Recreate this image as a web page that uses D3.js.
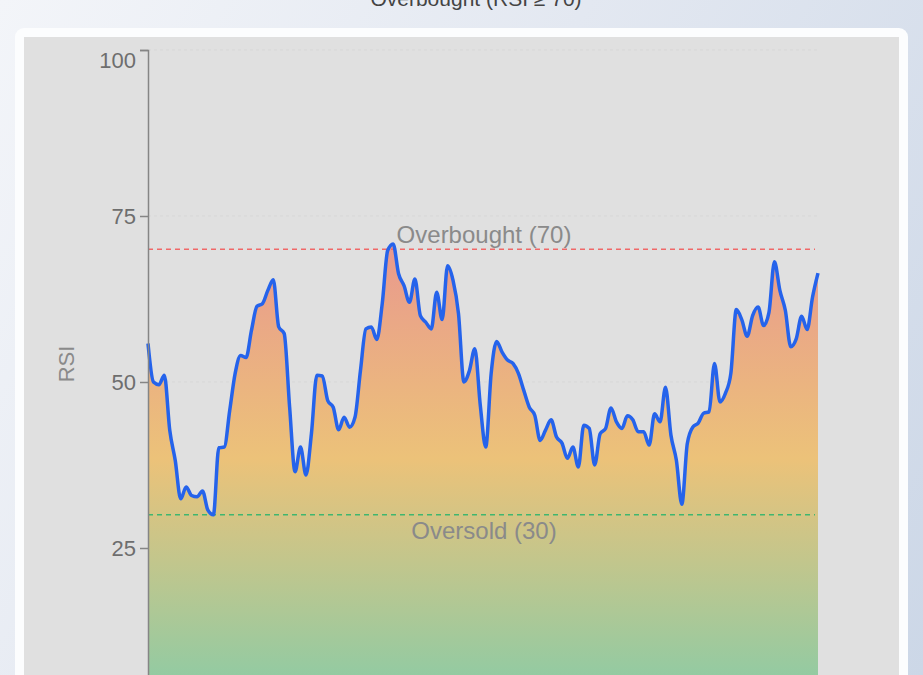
<!DOCTYPE html>
<html>
<head>
<meta charset="utf-8">
<script src="https://cdn.jsdelivr.net/npm/d3@7"></script>
<style>
    html, body {
        margin: 0;
        padding: 0;
        overflow: hidden;
        width: 923px;
        height: 675px;
    }
    body {
        background: linear-gradient(120deg, #f3f5f9 0%, #e3e8f1 45%, #ccd7e7 100%);
        font-family: "Liberation Sans", Arial, Helvetica, sans-serif;
    }
    #chart { position: absolute; left: 0; top: 0; }
</style>
</head>
<body>
<div id="chart"></div>
<script>
// RSI readings, one per trading session
const rsiValues = [
    55.8, 50.0, 49.6, 51.0, 42.7, 38.2, 32.4, 34.2, 32.9, 32.7,
    33.6, 30.7, 30.0, 40.1, 40.2, 45.7, 51.3, 54.0, 53.7, 57.8,
    61.4, 61.8, 63.8, 65.4, 58.3, 57.3, 46.2, 36.5, 40.2, 36.0,
    42.2, 51.0, 50.9, 47.2, 46.2, 42.8, 44.7, 43.2, 44.7, 51.7,
    58.0, 58.3, 56.4, 61.8, 69.8, 70.8, 66.3, 64.5, 62.0, 65.5,
    60.0, 59.0, 58.0, 63.5, 59.4, 67.5, 65.3, 60.3, 50.0, 51.7,
    55.0, 46.5, 40.2, 51.3, 56.1, 54.5, 53.3, 52.8, 51.3, 48.7,
    46.2, 45.0, 41.2, 42.8, 44.3, 41.7, 40.8, 38.5, 40.2, 37.2,
    43.5, 43.0, 37.5, 42.2, 43.0, 46.1, 44.0, 43.0, 44.9, 44.3,
    42.5, 42.5, 40.5, 45.2, 44.0, 49.2, 42.0, 38.2, 31.6, 40.7,
    43.2, 43.8, 45.3, 45.5, 52.8, 47.0, 48.3, 51.3, 60.9, 59.4,
    56.9, 60.0, 61.3, 58.5, 60.5, 68.1, 63.8, 60.8, 55.3, 56.5,
    59.9, 57.9, 62.8, 66.4
];

const yTicks = [25, 50, 75, 100];
const levelValues = [70, 30];
const levelLabels = ['Overbought (70)', 'Oversold (30)'];
const titleText = 'Overbought (RSI \u2265 70)';

class Chart {

    constructor(opts) {
        this.data = opts.data;
        this.element = opts.element;
        this.draw();
    }

    draw() {
        this.width = 923;
        this.height = 800;
        this.margin = { top: 50, left: 148, right: 105 };

        this.element.innerHTML = '';
        this.svg = d3.select(this.element).append('svg')
            .attr('width', this.width)
            .attr('height', this.height);

        // header text, mostly scrolled off the top
        this.svg.append('text')
            .attr('x', 476)
            .attr('y', 6)
            .attr('text-anchor', 'middle')
            .style('font-size', '21px')
            .style('fill', '#444')
            .text(titleText);

        // white card with the grey chart panel inside
        this.svg.append('rect')
            .attr('x', 15).attr('y', 28)
            .attr('width', 893).attr('height', 900)
            .attr('rx', 9)
            .attr('fill', '#fcfdfe');
        this.svg.append('rect')
            .attr('x', 24).attr('y', 37)
            .attr('width', 875).attr('height', 900)
            .attr('fill', '#e0e0e0');

        this.plot = this.svg.append('g')
            .attr('transform', `translate(${this.margin.left},0)`);

        this.createScales();
        this.addGrid();
        this.addArea();
        this.addLevels();
        this.addLine();
        this.addAxes();
    }

    createScales() {
        this.plotWidth = this.width - this.margin.left - this.margin.right;

        this.xScale = d3.scaleLinear()
            .domain([0, this.data.length - 1])
            .range([0, this.plotWidth]);

        this.yScale = d3.scaleLinear()
            .domain([0, 100])
            .range([714, this.margin.top]);
    }

    addGrid() {
        this.plot.append('g')
            .selectAll('line')
            .data(yTicks)
            .join('line')
            .attr('x1', 0)
            .attr('x2', this.plotWidth)
            .attr('y1', d => this.yScale(d))
            .attr('y2', d => this.yScale(d))
            .attr('stroke', '#d7d7d7')
            .attr('stroke-dasharray', '3,3');
    }

    addArea() {
        // gradient runs red (overbought) -> amber -> green (towards zero)
        const grad = this.svg.append('defs').append('linearGradient')
            .attr('id', 'rsiFill')
            .attr('gradientUnits', 'userSpaceOnUse')
            .attr('x1', 0).attr('x2', 0)
            .attr('y1', this.yScale(70))
            .attr('y2', this.yScale(0));
        grad.append('stop').attr('offset', '0%').attr('stop-color', '#e99a8d');
        grad.append('stop').attr('offset', '45%').attr('stop-color', '#ecc279');
        grad.append('stop').attr('offset', '100%').attr('stop-color', '#84cca9');

        const area = d3.area()
            .x((d, i) => this.xScale(i))
            .y0(this.yScale(0))
            .y1(d => this.yScale(d))
            .curve(d3.curveMonotoneX);

        this.plot.append('path')
            .datum(this.data)
            .attr('d', area)
            .attr('fill', 'url(#rsiFill)');
    }

    addLevels() {
        const colors = ['#f06868', '#3fb66f'];
        const offsets = [-6, 24];

        levelValues.forEach((v, i) => {
            const y = this.yScale(v);
            this.plot.append('line')
                .attr('x1', 0)
                .attr('x2', this.plotWidth - 3)
                .attr('y1', y)
                .attr('y2', y)
                .attr('stroke', colors[i])
                .attr('stroke-width', 1.5)
                .attr('stroke-dasharray', '5,4');

            this.plot.append('text')
                .attr('x', this.plotWidth / 2 + 1)
                .attr('y', y + offsets[i])
                .attr('text-anchor', 'middle')
                .style('font-size', '24px')
                .style('fill', '#8a8a8a')
                .text(levelLabels[i]);
        });
    }

    addLine() {
        const line = d3.line()
            .x((d, i) => this.xScale(i))
            .y(d => this.yScale(d))
            .curve(d3.curveMonotoneX);

        this.plot.append('path')
            .datum(this.data)
            .attr('d', line)
            .attr('fill', 'none')
            .attr('stroke', '#2563eb')
            .attr('stroke-width', 3.5)
            .attr('stroke-linejoin', 'round');
    }

    addAxes() {
        const yAxis = d3.axisLeft(this.yScale)
            .tickValues(yTicks)
            .tickSize(8)
            .tickPadding(4);

        const g = this.plot.append('g').call(yAxis);
        g.select('.domain').attr('stroke', '#858585').attr('stroke-width', 1.5);
        g.selectAll('.tick line').attr('stroke', '#858585').attr('stroke-width', 1.5);
        g.selectAll('.tick text')
            .style('font-size', '22px')
            .style('font-family', '"Liberation Sans", Arial, sans-serif')
            .style('fill', '#6e6e6e')
            // top label sits a little below its tick
            .attr('dy', d => d === 100 ? '0.8em' : '0.32em');

        this.svg.append('text')
            .attr('transform', 'translate(74,364) rotate(-90)')
            .attr('text-anchor', 'middle')
            .style('font-size', '22px')
            .style('fill', '#8a8a8a')
            .text('RSI');
    }
}

new Chart({ data: rsiValues, element: document.getElementById('chart') });
</script>
</body>
</html>
